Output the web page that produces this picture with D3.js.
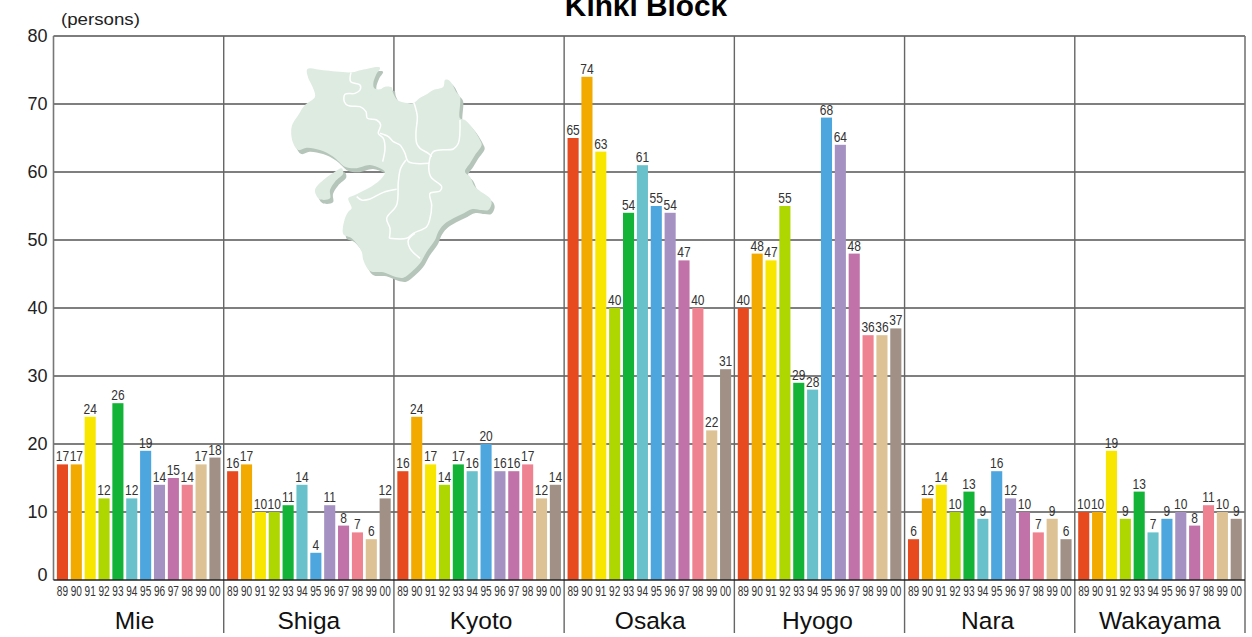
<!DOCTYPE html>
<html>
<head>
<meta charset="utf-8">
<title>Kinki Block</title>
<script src="https://cdn.jsdelivr.net/npm/d3@7/dist/d3.min.js"></script>
<style>
  html, body { margin: 0; padding: 0; background: #fff; overflow: hidden; }
  svg { display: block; }
  text { font-family: "Liberation Sans", Arial, sans-serif; }
</style>
</head>
<body>
<svg id="chart" width="1252" height="637"></svg>
<script>
// Yearly counts per prefecture, 1989 to 2000
const prefectures = ["Mie", "Shiga", "Kyoto", "Osaka", "Hyogo", "Nara", "Wakayama"];
const years = ["89", "90", "91", "92", "93", "94", "95", "96", "97", "98", "99", "00"];
const mie      = [17, 17, 24, 12, 26, 12, 19, 14, 15, 14, 17, 18];
const shiga    = [16, 17, 10, 10, 11, 14, 4, 11, 8, 7, 6, 12];
const kyoto    = [16, 24, 17, 14, 17, 16, 20, 16, 16, 17, 12, 14];
const osaka    = [65, 74, 63, 40, 54, 61, 55, 54, 47, 40, 22, 31];
const hyogo    = [40, 48, 47, 55, 29, 28, 68, 64, 48, 36, 36, 37];
const nara     = [6, 12, 14, 10, 13, 9, 16, 12, 10, 7, 9, 6];
const wakayama = [10, 10, 19, 9, 13, 7, 9, 10, 8, 11, 10, 9];
const yearColors = ["#e64a1e", "#f3aa00", "#f8e600", "#aed600", "#13b337", "#69c1cb",
                    "#4ea6de", "#a592c3", "#c172a8", "#ef8290", "#dcc295", "#a09086"];
const yTicks = [0, 10, 20, 30, 40, 50, 60, 70, 80];

// Inset map of the block, in the map's own grid units
const mainland = [[82,42],[130,46],[215,52],[245,45],[300,38],[288,60],[280,85],[283,100],[300,103],[315,95],[335,97],[338,110],[352,135],[375,143],[402,143],[418,130],[440,118],[460,105],[490,95],[495,75],[505,75],[515,85],[528,110],[540,125],[540,190],[555,195],[580,222],[600,255],[605,270],[585,300],[570,325],[555,350],[570,365],[585,395],[610,415],[630,430],[635,445],[625,465],[605,465],[578,462],[545,478],[520,490],[490,510],[475,530],[465,555],[440,590],[420,625],[395,650],[370,668],[345,665],[310,652],[270,648],[250,615],[245,590],[215,550],[190,538],[195,490],[205,470],[215,460],[205,430],[225,420],[265,400],[300,375],[315,352],[300,340],[270,330],[225,340],[195,335],[160,305],[120,285],[80,278],[55,285],[38,260],[35,215],[55,180],[75,150],[105,125],[95,90],[85,70]];
const awaji = [[185,340],[165,350],[130,375],[105,405],[118,432],[150,430],[150,405],[165,380],[190,355]];
const borders = [
  [[213,52],[212,80],[240,90],[240,105],[225,115],[195,118],[193,140],[205,152],[240,155],[258,170],[262,190],[290,195],[302,210],[295,235],[310,250],[315,280],[308,320]],
  [[300,235],[325,245],[340,260],[360,270],[375,295],[385,320],[447,325]],
  [[402,143],[412,185],[408,230],[410,265],[420,280],[445,295],[455,305]],
  [[540,195],[535,265],[520,282],[480,285],[460,290],[447,325],[452,365],[485,395],[480,408],[450,415],[455,450],[450,490],[440,515],[400,535],[380,550],[328,550]],
  [[378,315],[362,340],[355,380],[350,450],[320,490],[330,520],[328,550]],
  [[230,425],[245,435],[270,432],[310,412],[350,403]],
  [[405,535],[385,555],[390,580],[420,610]]
];

const seriesByPrefecture = [mie, shiga, kyoto, osaka, hyogo, nara, wakayama];
const svg = d3.select("#chart");

const plotLeft = 53.5, plotRight = 1245, plotTop = 36, plotBottom = 580;
const x = d3.scaleBand().domain(prefectures).range([plotLeft, plotRight]);
const y = d3.scaleLinear().domain([0, 80]).range([plotBottom, plotTop]);
const barX = d3.scaleBand().domain(years).range([3.4, 167]).paddingInner(0.2).paddingOuter(0);

// Grid and frame
const grid = svg.append("g").attr("fill", "none");
grid.selectAll("line.h").data(yTicks.filter(d => d > 0)).join("line")
  .attr("class", "h")
  .attr("x1", plotLeft).attr("x2", plotRight)
  .attr("y1", d => y(d)).attr("y2", d => y(d))
  .attr("stroke", d => d === 80 ? "#7d7d7d" : "#555")
  .attr("stroke-width", d => d === 80 ? 1.8 : 1.4);
grid.selectAll("line.v").data(prefectures.slice(1)).join("line")
  .attr("class", "v")
  .attr("x1", d => x(d)).attr("x2", d => x(d))
  .attr("y1", plotTop).attr("y2", 633)
  .attr("stroke", "#666").attr("stroke-width", 1.4);
grid.append("line")
  .attr("x1", plotRight).attr("x2", plotRight)
  .attr("y1", plotTop).attr("y2", 633)
  .attr("stroke", "#777").attr("stroke-width", 1.6);
grid.append("line")
  .attr("x1", plotLeft).attr("x2", plotLeft)
  .attr("y1", plotTop).attr("y2", plotBottom)
  .attr("stroke", "#777").attr("stroke-width", 1.6);

// Inset map: shadow, land, prefecture borders
const mapX = d3.scaleLinear().domain([0, 660]).range([280, 500]);
const mapY = d3.scaleLinear().domain([0, 705]).range([55, 290]);
const outlinePath = d3.line().x(d => mapX(d[0])).y(d => mapY(d[1])).curve(d3.curveCatmullRomClosed.alpha(0.5));
const borderPath = d3.line().x(d => mapX(d[0])).y(d => mapY(d[1])).curve(d3.curveCatmullRom.alpha(0.5));
const map = svg.append("g");
map.selectAll("path.shadow").data([mainland, awaji]).join("path")
  .attr("class", "shadow")
  .attr("d", outlinePath)
  .attr("transform", "translate(3,4)")
  .attr("fill", "#b5c5ba");
map.selectAll("path.land").data([mainland, awaji]).join("path")
  .attr("class", "land")
  .attr("d", outlinePath)
  .attr("fill", "#deebe1");
map.selectAll("path.border").data(borders).join("path")
  .attr("class", "border")
  .attr("d", borderPath)
  .attr("fill", "none")
  .attr("stroke", "#fff")
  .attr("stroke-width", 1.5);

// One group of yearly bars per prefecture
const groups = svg.selectAll("g.prefecture")
  .data(prefectures.map((name, i) => ({ name, values: seriesByPrefecture[i] })))
  .join("g")
  .attr("class", "prefecture")
  .attr("transform", d => `translate(${x(d.name)},0)`);

const barData = d => d.values.map((value, i) => ({ value, year: years[i], color: yearColors[i] }));

groups.selectAll("rect").data(barData).join("rect")
  .attr("x", d => barX(d.year))
  .attr("width", barX.bandwidth())
  .attr("y", d => y(d.value))
  .attr("height", d => y(0) - y(d.value))
  .attr("fill", d => d.color);

groups.selectAll("text.value").data(barData).join("text")
  .attr("class", "value")
  .attr("transform", d => `translate(${barX(d.year) + barX.bandwidth() / 2},${y(d.value) - 3}) scale(0.8,1)`)
  .attr("text-anchor", "middle")
  .attr("font-size", 15)
  .attr("fill", "#333")
  .text(d => d.value);

groups.selectAll("text.year").data(barData).join("text")
  .attr("class", "year")
  .attr("transform", d => `translate(${barX(d.year) + barX.bandwidth() / 2},596) scale(0.72,1)`)
  .attr("text-anchor", "middle")
  .attr("font-size", 14)
  .attr("fill", "#333")
  .text(d => d.year);

// Prefecture names sit slightly off the centre of their band
const nameNudge = [-4, 0, 2, 1, -2, -2, 0];
groups.append("text")
  .attr("class", "name")
  .attr("x", (d, i) => x.bandwidth() / 2 + nameNudge[i])
  .attr("y", 629)
  .attr("text-anchor", "middle")
  .attr("font-size", 24.5)
  .attr("fill", "#111")
  .text(d => d.name);

// Baseline over the bar feet
svg.append("line")
  .attr("x1", plotLeft).attr("x2", plotRight)
  .attr("y1", y(0)).attr("y2", y(0))
  .attr("stroke", "#222").attr("stroke-width", 1.4);

// Value axis; the zero label is lifted clear of the baseline
const yAxis = d3.axisLeft(y).tickValues(yTicks).tickSize(0).tickPadding(6);
const axisG = svg.append("g").attr("transform", `translate(${plotLeft},0)`).call(yAxis);
axisG.select(".domain").remove();
axisG.selectAll("text")
  .attr("font-family", '"Liberation Sans", Arial, sans-serif')
  .attr("font-size", 18)
  .attr("fill", "#222")
  .attr("dy", d => d === 0 ? "0.05em" : "0.33em");

svg.append("text")
  .attr("transform", "translate(61,25) scale(1.1,1)")
  .attr("font-size", 17).attr("fill", "#222").text("(persons)");

svg.append("text").attr("x", 646).attr("y", 16)
  .attr("text-anchor", "middle")
  .attr("font-size", 29.8).attr("font-weight", "bold").attr("fill", "#000")
  .text("Kinki Block");
</script>
</body>
</html>
